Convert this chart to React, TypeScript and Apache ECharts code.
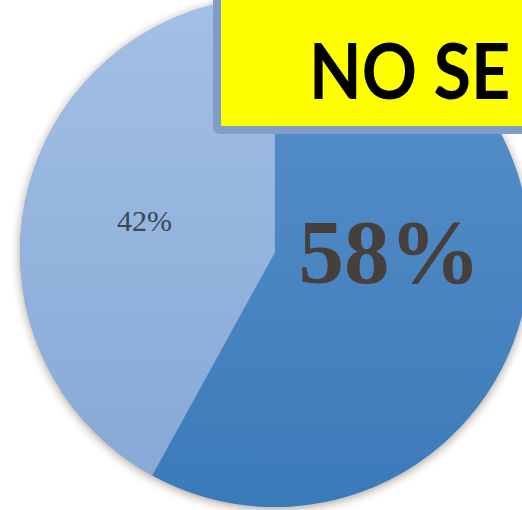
import React, { useEffect, useRef } from "react";
import * as echarts from "echarts";

const categories = ["Sí señala", "No señala"];
const values = [58, 42];
const labels = ["58%", "42%"];
const bannerText = "NO SE";

export default function App() {
  const ref = useRef<HTMLDivElement>(null);
  useEffect(() => {
    if (!ref.current) return;
    const chart = echarts.init(ref.current, null, { renderer: "svg" });
    const lg = (a: string, b: string) =>
      new echarts.graphic.LinearGradient(0, 0, 0, 1, [
        { offset: 0, color: a },
        { offset: 1, color: b },
      ]);
    chart.setOption({
      animation: false,
      backgroundColor: "#ffffff",
      series: [
        {
          type: "pie",
          silent: true,
          center: [275, 252],
          radius: 255,
          label: { show: false },
          labelLine: { show: false },
          itemStyle: {
            color: "#6f98cc",
            shadowBlur: 10,
            shadowColor: "rgba(60,40,20,0.45)",
            shadowOffsetY: 2,
          },
          data: [{ value: 1, name: "bg" }],
          z: 1,
        },
        {
          type: "pie",
          center: [275, 252],
          radius: 255,
          startAngle: 90,
          clockwise: true,
          z: 2,
          data: categories.map((c, i) => ({
            name: c,
            value: values[i],
            itemStyle:
              i === 0
                ? { color: lg("#5a92cc", "#3b7ab9") }
                : { color: lg("#a3c0e6", "#87a9d6") },
            label:
              i === 0
                ? {
                    fontSize: 91,
                    fontWeight: "bold",
                    color: "#463f3b",
                  }
                : { fontSize: 30, color: "#3b4656" },
          })),
          label: {
            show: true,
            position: "inside",
            fontFamily: "Liberation Serif",
            formatter: (p: any) => labels[p.dataIndex],
          },
          labelLine: { show: false },
          labelLayout: (p: any) =>
            p.dataIndex === 0 ? { dx: -12, dy: -32 } : { dx: -4, dy: 1 },
          itemStyle: { borderWidth: 0 },
        },
      ],
      graphic: [
        {
          type: "rect",
          z: 100,
          shape: { x: 213, y: -20, width: 340, height: 151, r: 4 },
          style: { fill: "rgba(70,80,110,0.35)" },
        },
        {
          type: "rect",
          z: 101,
          shape: { x: 217, y: -20, width: 340, height: 150, r: 3 },
          style: { fill: "#ffff00", stroke: "#7f9dc8", lineWidth: 8 },
        },
        {
          type: "text",
          z: 102,
          x: 309,
          y: 70,
          scaleX: 0.9,
          style: {
            text: bannerText,
            fontFamily: "Lato",
            fontWeight: "bold",
            fontSize: 76,
            fill: "#000000",
            verticalAlign: "middle",
            align: "left",
          },
        },
      ],
    });
    return () => chart.dispose();
  }, []);
  return (
    <div
      ref={ref}
      style={{ position: "fixed", left: 0, top: 0, width: 522, height: 510 }}
    />
  );
}
